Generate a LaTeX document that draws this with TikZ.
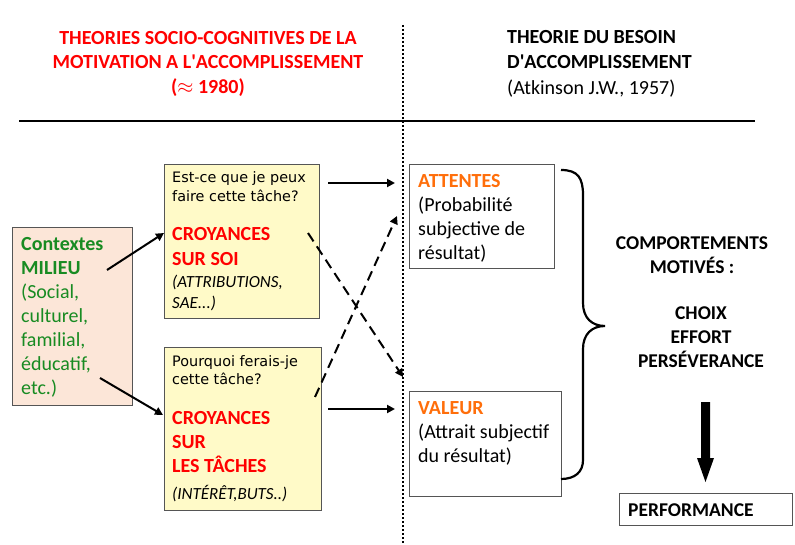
\documentclass[tikz,border=0pt]{standalone}
\usepackage{fontspec}
\setmainfont{Carlito}
\newfontfamily\comicfont{DejaVu Sans}
\usetikzlibrary{arrows.meta}
\definecolor{hred}{RGB}{255,0,0}
\definecolor{hgreen}{RGB}{24,139,34}
\definecolor{horange}{RGB}{255,110,10}
\definecolor{peach}{RGB}{252,230,216}
\definecolor{pyellow}{RGB}{255,250,200}
\definecolor{bordergray}{RGB}{85,85,85}
\begin{document}
\begin{tikzpicture}[x=1pt,y=-1pt,
  box/.style={draw=bordergray,line width=1.3pt,inner sep=0pt,anchor=north west},
  txt/.style={inner sep=0pt,anchor=base west,align=left},
  big/.style={font=\fontsize{20}{24}\selectfont},
  arr/.style={line width=2pt,-{Triangle[length=8pt,width=8pt]}},
  darr/.style={arr,dash pattern=on 10pt off 6pt},
]
\useasboundingbox[fill=white] (0,0) rectangle (795,545);

% header (anchors are at the baseline of the LAST line)
\node[inner sep=0pt,anchor=base,align=center,text=hred,
  font=\fontsize{20}{24.5}\selectfont\bfseries] (hl) at (208,93.5)
  {THEORIES SOCIO-COGNITIVES DE LA\\MOTIVATION A L\textquotesingle ACCOMPLISSEMENT\\($\approx$ 1980)};
\node[txt,font=\fontsize{20}{25.5}\selectfont] (hr) at (507,94.5)
  {\textbf{THEORIE DU BESOIN}\\\textbf{D\textquotesingle ACCOMPLISSEMENT}\\(Atkinson J.W., 1957)};
\draw[line width=2.4pt] (19,121) coordinate (hlineA) -- (755,121) coordinate (hlineB);
\draw[line width=2pt,dash pattern=on 2pt off 2pt] (403,25) coordinate (vtop) -- (403,545) coordinate (vbot);

% boxes
\node[box,fill=peach,minimum width=120pt,minimum height=178pt] (ctx) at (12,227) {};
\node[box,fill=pyellow,minimum width=155pt,minimum height=154pt] (soi) at (164,164) {};
\node[box,fill=pyellow,minimum width=157pt,minimum height=163pt] (tache) at (164,347) {};
\node[box,fill=white,minimum width=145pt,minimum height=104pt] (att) at (409,164) {};
\node[box,fill=white,minimum width=152pt,minimum height=105pt] (val) at (409,391) {};
\node[box,fill=white,minimum width=173pt,minimum height=32pt] (perf) at (619,493) {};

% contexte text
\node[txt,big,text=hgreen] (ctxt) at (21,394.5)
  {\textbf{Contextes}\\\textbf{MILIEU}\\(Social,\\culturel,\\familial,\\éducatif,\\etc.)};

% box soi
\node[txt,font=\comicfont\fontsize{14.4}{19}\selectfont] (soiq) at (172,202)
  {Est-ce que je peux\\faire cette tâche?};
\node[txt,font=\fontsize{20}{25}\selectfont\bfseries,text=hred] (soit) at (172,265.5)
  {CROYANCES\\SUR SOI};
\node[txt,font=\fontsize{17}{21}\selectfont\itshape] (soii) at (172,308.5)
  {(ATTRIBUTIONS,\\SAE...)};

% box taches
\node[txt,font=\comicfont\fontsize{14.4}{18.5}\selectfont] (tacheq) at (172,384.5)
  {Pourquoi ferais-je\\cette tâche?};
\node[txt,font=\fontsize{20}{24}\selectfont\bfseries,text=hred] (tachet) at (172,472.5)
  {CROYANCES\\SUR\\LES TÂCHES};
\node[txt,font=\fontsize{17}{21}\selectfont\itshape] (tachei) at (172,499.5)
  {(INTÉRÊT,BUTS..)};

% attentes / valeur
\node[txt,big] (attt) at (418,259.5)
  {\textcolor{horange}{\textbf{ATTENTES}}\\(Probabilité\\subjective de\\résultat)};
\node[txt,big] (valt) at (418,462.5)
  {\textcolor{horange}{\textbf{VALEUR}}\\(Attrait subjectif\\du résultat)};

% comportements
\node[inner sep=0pt,anchor=base,align=center,font=\fontsize{19.5}{24}\selectfont\bfseries] (comp) at (692,274)
  {COMPORTEMENTS\\MOTIVÉS :};
\node[inner sep=0pt,anchor=base,align=center,font=\fontsize{19.5}{24}\selectfont\bfseries] (choix) at (701,367)
  {CHOIX\\EFFORT\\PERSÉVERANCE};
\node[txt,font=\fontsize{19.5}{24}\selectfont\bfseries] (perft) at (628,516) {PERFORMANCE};

% arrows
\coordinate (a1s) at (107,270); \coordinate (a1e) at (164,233);
\coordinate (a2s) at (100,378); \coordinate (a2e) at (163,415);
\coordinate (a3s) at (328,183); \coordinate (a3e) at (395,183);
\coordinate (a4s) at (328,409); \coordinate (a4e) at (395,409);
\coordinate (d1s) at (308,233); \coordinate (d1e) at (403,377);
\coordinate (d2s) at (315,397); \coordinate (d2e) at (397,216);
\draw[arr] (a1s) -- (a1e);
\draw[arr] (a2s) -- (a2e);
\draw[arr] (a3s) -- (a3e);
\draw[arr] (a4s) -- (a4e);
\draw[darr] (d1s) -- (d1e);
\draw[darr] (d2s) -- (d2e);

% brace
\draw[line width=2.2pt] (561,170) coordinate (brA)
  .. controls (578,170) and (583,178) .. (583,195) -- (583,303)
  .. controls (583,318) and (592,326) .. (605,326) coordinate (brtip)
  .. controls (592,326) and (583,334) .. (583,349) -- (583,460)
  .. controls (583,472) and (575,479) .. (561,479) coordinate (brB);

% big arrow
\fill (701,402) coordinate (bigA) -- (710,402) -- (710,458) -- (714,458) -- (705.5,482) coordinate (bigB)
  -- (697,458) -- (701,458) -- cycle;
\end{tikzpicture}
\end{document}
